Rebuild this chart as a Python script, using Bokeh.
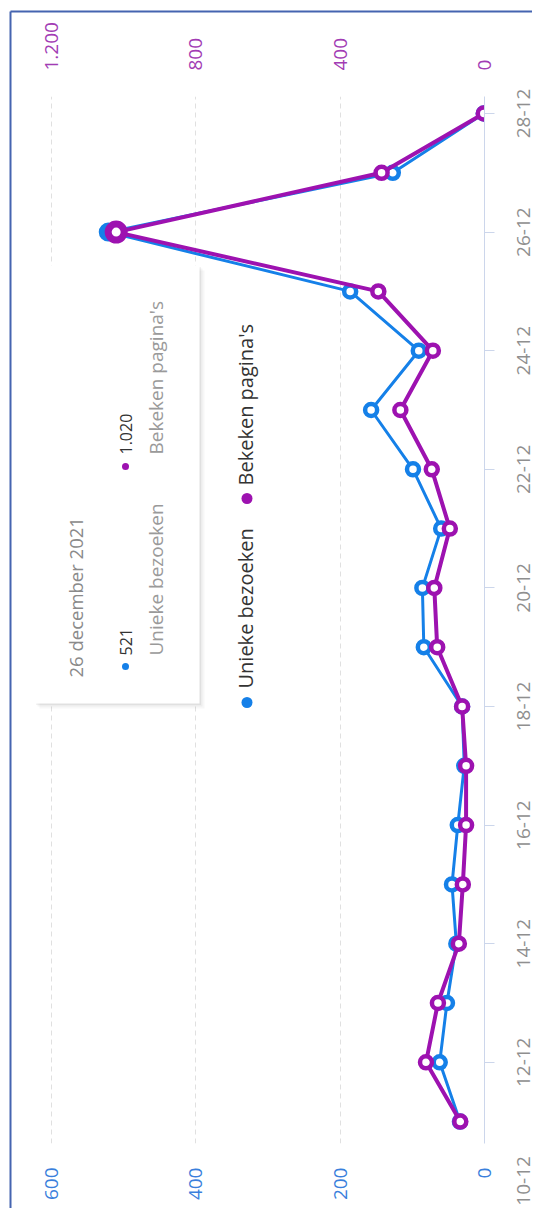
import math
from bokeh.plotting import figure
from bokeh.models import (Range1d, LinearAxis, FixedTicker, ColumnDataSource,
                          Label, BoxAnnotation, Grid)
from bokeh.core.properties import value
from bokeh.embed import file_html
from bokeh.resources import INLINE

# ---------------- data ----------------
days = [11, 12, 13, 14, 15, 16, 17, 18, 19, 20, 21, 22, 23, 24, 25, 26, 27, 28]
unieke_bezoeken = [34, 62, 52, 39, 45, 37, 28, 31, 84, 86, 60, 99, 157, 91, 186, 521, 127, 1]
bekeken_paginas = [67, 162, 129, 71, 60, 51, 51, 62, 131, 139, 96, 146, 233, 143, 294, 1020, 285, 2]
date_ticks = [10, 12, 14, 16, 18, 20, 22, 24, 26, 28]
date_tick_labels = ["10-12", "12-12", "14-12", "16-12", "18-12", "20-12", "22-12", "24-12", "26-12", "28-12"]
blue_ticks = [0, 200, 400, 600]
blue_tick_labels = ["0", "200", "400", "600"]
purple_ticks = [0, 400, 800, 1200]
purple_tick_labels = ["0", "400", "800", "1.200"]
series_names = ["Unieke bezoeken", "Bekeken pagina's"]
tooltip_title = "26 december 2021"
tooltip_day = 26
tooltip_values = ["521", "1.020"]

BLUE = "#1580e8"
PURPLE = "#9d12b0"
FONT = "Open Sans"
BORDER = "#4564b0"

# ---------------- layout (page pixels; bokeh page has no body margin) ----------------
W, H = 532, 1208
FRAME_L, FRAME_R, FRAME_T, FRAME_B = 20, 484, 96, 1143
PX_PER_UNIT = 0.7222      # blue units
PX_PER_DAY = 59.3
Y_DAY28 = 113

x_start = (FRAME_R - FRAME_L) / PX_PER_UNIT
y_start = 28 - (FRAME_B - Y_DAY28) / PX_PER_DAY
y_end = 28 + (Y_DAY28 - FRAME_T) / PX_PER_DAY


def dx(px):
    return (FRAME_R - px) / PX_PER_UNIT


def dy(py):
    return 28 - (py - Y_DAY28) / PX_PER_DAY


p = figure(width=W, height=H,
           x_range=Range1d(x_start, 0), y_range=Range1d(y_start, y_end),
           output_backend="svg", toolbar_location=None,
           x_axis_location=None, y_axis_location=None,
           min_border_left=FRAME_L, min_border_right=W - FRAME_R,
           min_border_top=FRAME_T, min_border_bottom=H - FRAME_B,
           outline_line_color=None, background_fill_color="white",
           border_fill_color="white")
p.xgrid.visible = False
p.ygrid.visible = False
p.extra_x_ranges = {"purple": Range1d(2 * x_start, 0)}

# grid
grid = Grid(dimension=0, ticker=FixedTicker(ticks=[t for t in blue_ticks if t > 0]),
            grid_line_color="#e0e0e0", grid_line_dash="5 4", grid_line_width=1)
p.add_layout(grid)

# bottom axis (Unieke bezoeken)
ax_b = LinearAxis(ticker=FixedTicker(ticks=blue_ticks),
                  major_label_overrides={t: l for t, l in zip(blue_ticks, blue_tick_labels)},
                  major_label_orientation=math.pi / 2,
                  axis_line_color=None, major_tick_line_color=None, minor_tick_line_color=None,
                  major_tick_out=0, major_tick_in=0, major_label_standoff=24,
                  major_label_text_color="#3a7fdc", major_label_text_font=FONT,
                  major_label_text_font_size="19px")
p.add_layout(ax_b, "below")

# top axis (Bekeken pagina's)
ax_t = LinearAxis(x_range_name="purple", ticker=FixedTicker(ticks=purple_ticks),
                  major_label_overrides={t: l for t, l in zip(purple_ticks, purple_tick_labels)},
                  major_label_orientation=math.pi / 2,
                  axis_line_color=None, major_tick_line_color=None, minor_tick_line_color=None,
                  major_tick_out=0, major_tick_in=0, major_label_standoff=26,
                  major_label_text_color="#a23cb4", major_label_text_font=FONT,
                  major_label_text_font_size="19px")
p.add_layout(ax_t, "above")

# right axis (dates): line + ticks; labels drawn as text so that 10-12 also shows
ax_r = LinearAxis(ticker=FixedTicker(ticks=date_ticks),
                  major_label_overrides={t: "" for t in date_ticks},
                  axis_line_color="#ccd6eb", major_tick_line_color="#ccd6eb",
                  major_tick_out=10, major_tick_in=0, minor_tick_line_color=None)
p.add_layout(ax_r, "right")

date_src = ColumnDataSource(dict(y=date_ticks, text=date_tick_labels, x=[0] * len(date_ticks)))
p.text(x="x", y="y", text="text", source=date_src, x_offset=38.5,
       angle=math.pi / 2, text_align="center", text_baseline="middle",
       text_font=value(FONT), text_font_size="19px", text_color="#8f8f8f", level="overlay")

# series
src = ColumnDataSource(dict(day=days, u=unieke_bezoeken, b=bekeken_paginas))
hi = days.index(tooltip_day)
hsrc = ColumnDataSource(dict(day=[days[hi]], u=[unieke_bezoeken[hi]], b=[bekeken_paginas[hi]]))

p.line(x="u", y="day", source=src, line_color=BLUE, line_width=3)
p.scatter(x="u", y="day", source=src, size=12, line_width=4.5, line_color=BLUE, fill_color="white")
p.scatter(x="u", y="day", source=hsrc, size=12, line_width=7, line_color=BLUE, fill_color="white")
p.line(x="b", y="day", source=src, line_color=PURPLE, line_width=4, x_range_name="purple")
p.scatter(x="b", y="day", source=src, size=12, line_width=4.5, line_color=PURPLE,
          fill_color="white", x_range_name="purple")
p.scatter(x="b", y="day", source=hsrc, size=16, line_width=7, line_color=PURPLE,
          fill_color="white", x_range_name="purple")

# legend (rotated)
p.scatter(x=[dx(246.5), dx(246.5)], y=[dy(702), dy(498)], size=11, color=[BLUE, PURPLE], line_width=0)
for name, py in zip(series_names, [688, 485]):
    p.add_layout(Label(x=dx(245), y=dy(py), text=name, angle=math.pi / 2,
                       text_align="left", text_baseline="middle",
                       text_font=FONT, text_font_size="20px", text_color="#333333"))

# tooltip box with soft shadow
for off, a in [(5, 0.03), (3, 0.04), (1.5, 0.05)]:
    p.add_layout(BoxAnnotation(left=dx(34 + off), right=dx(199 + off), top=dy(265 + off), bottom=dy(703 + off),
                               fill_color="black", fill_alpha=a, line_color=None))
p.add_layout(BoxAnnotation(left=dx(34), right=dx(199), top=dy(265), bottom=dy(703),
                           fill_color="white", fill_alpha=1, line_color=None))
p.add_layout(Label(x=dx(74.5), y=dy(677), text=tooltip_title, angle=math.pi / 2,
                   text_align="left", text_baseline="middle",
                   text_font=FONT, text_font_size="18.5px", text_color="#8a8a8a"))
p.scatter(x=[dx(125), dx(125)], y=[dy(666), dy(466)], size=7, color=[BLUE, PURPLE], line_width=0,
          level="overlay")
for val, name, py in zip(tooltip_values, series_names, [655, 454]):
    p.add_layout(Label(x=dx(125), y=dy(py), text=val, angle=math.pi / 2,
                       text_align="left", text_baseline="middle",
                       text_font=FONT, text_font_size="16px", text_color="#333333"))
    p.add_layout(Label(x=dx(155), y=dy(py), text=name, angle=math.pi / 2,
                       text_align="left", text_baseline="middle",
                       text_font=FONT, text_font_size="19px", text_color="#9a9a9a"))

# outer border of the screenshot (left and top edges visible)
p.segment(x0=[dx(10), dx(10)], y0=[dy(11), dy(11)], x1=[dx(10), dx(560)], y1=[dy(1240), dy(11)],
          line_color=BORDER, line_width=2, level="overlay")

open("out.html", "w").write(file_html(p, INLINE))
